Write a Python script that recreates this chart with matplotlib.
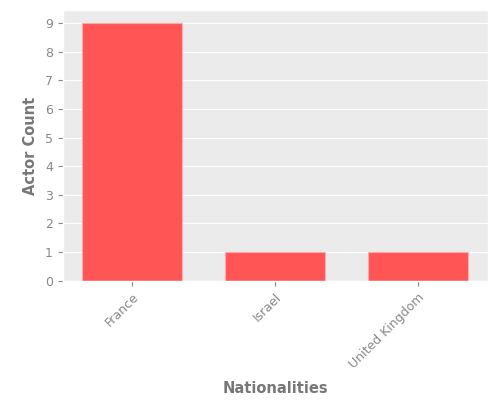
import matplotlib
matplotlib.use("Agg")
import matplotlib.pyplot as plt

plt.style.use("ggplot")

nationalities = ["France", "Israel", "United Kingdom"]
actor_counts = [9, 1, 1]

fig, ax = plt.subplots(figsize=(5, 4), dpi=100)
ax.set_facecolor("#ebebeb")
ax.bar(nationalities, actor_counts, width=0.7, color="#ff5555", edgecolor="#ffaaaa", linewidth=0.8)
ax.set_xlabel("Nationalities", fontweight="bold", color="#777777", fontsize=10.5)
ax.set_ylabel("Actor Count", fontweight="bold", color="#777777", fontsize=10.5)
ax.set_yticks(range(0, 10))
ax.tick_params(colors="#888888", labelsize=9)
plt.setp(ax.get_xticklabels(), rotation=45, ha="right", rotation_mode="anchor")
ax.grid(axis="x", visible=False)
ax.xaxis.set_label_coords(0.5, -0.37)
ax.yaxis.set_label_coords(-0.058, 0.5)
fig.subplots_adjust(left=0.125, right=0.975, top=0.975, bottom=0.298)
fig.savefig("out.png")
